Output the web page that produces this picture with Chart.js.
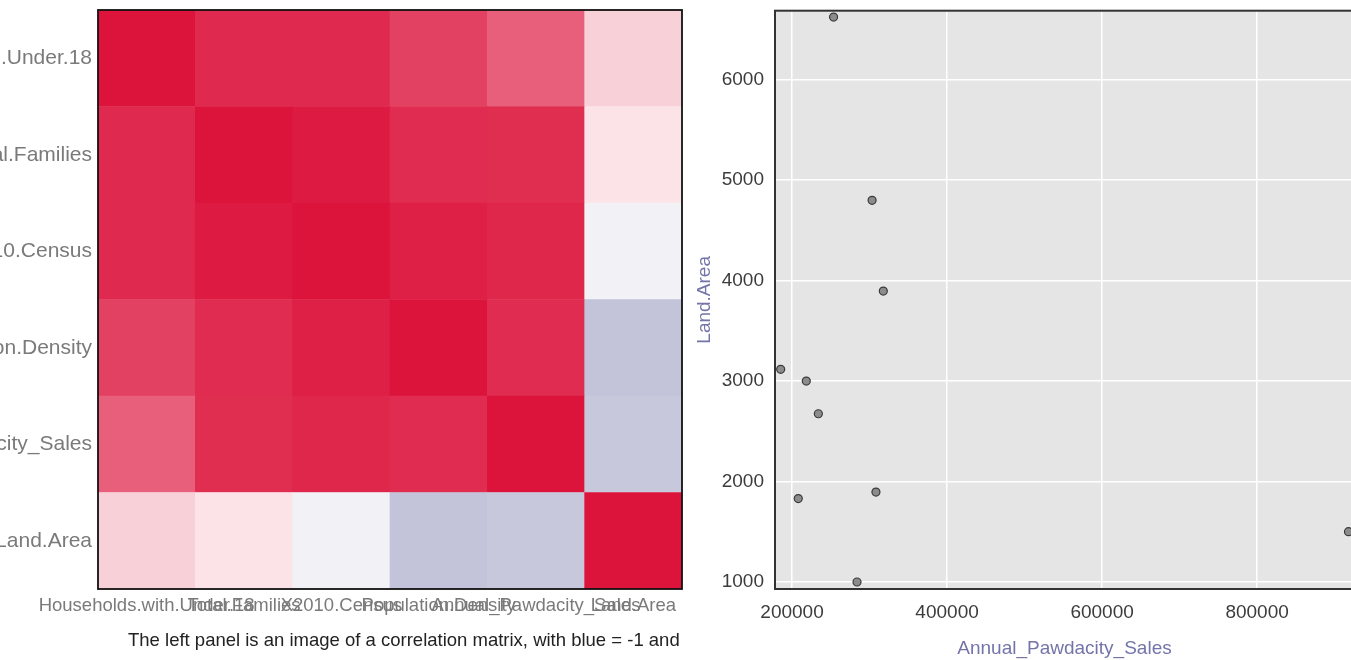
<!DOCTYPE html>
<html>
<head>
<meta charset="utf-8">
<script src="https://cdn.jsdelivr.net/npm/chart.js@4.4.1/dist/chart.umd.min.js"></script>
<style>
  html, body { margin: 0; padding: 0; background: #fff; overflow: hidden; }
  body { width: 1351px; height: 660px; position: relative; font-family: "Liberation Sans", Arial, sans-serif; }
  #heatWrap { position: absolute; left: -130px; top: 0; width: 820px; height: 660px; }
  #scatWrap { position: absolute; left: 680px; top: 0; width: 700px; height: 660px; }
  #caption { position: absolute; left: 128px; top: 629px; font-size: 18.5px; color: #222; white-space: nowrap; }
</style>
</head>
<body>
<div id="heatWrap"><canvas id="heat"></canvas></div>
<div id="scatWrap"><canvas id="scat"></canvas></div>
<div id="caption">The left panel is an image of a correlation matrix, with blue = -1 and</div>
<script>
// variables in the correlation matrix (top row first / left column first)
const varNames = [
  "Households.with.Under.18",
  "Total.Families",
  "X2010.Census",
  "Population.Density",
  "Annual_Pawdacity_Sales",
  "Land.Area"
];

// correlation rows
const corrUnder18  = [1.00, 0.91, 0.91, 0.81, 0.68, 0.20];
const corrFamilies = [0.91, 1.00, 0.97, 0.90, 0.89, 0.12];
const corrCensus   = [0.91, 0.97, 1.00, 0.95, 0.92, -0.06];
const corrDensity  = [0.81, 0.90, 0.95, 1.00, 0.90, -0.26];
const corrSales    = [0.68, 0.89, 0.92, 0.90, 1.00, -0.24];
const corrLand     = [0.20, 0.12, -0.06, -0.26, -0.24, 1.00];
const corrRows = [corrUnder18, corrFamilies, corrCensus, corrDensity, corrSales, corrLand];

// scatter: one point per city
const salesValues = [185328, 317736, 917892, 218376, 208008, 283824, 233928, 303264, 253584, 308232];
const landValues  = [3115.5, 3894.3, 1500.2, 2999.0, 1829.5, 999.5, 2673.6, 4796.9, 6620.2, 1894.0];

const xTicks = [200000, 400000, 600000, 800000];
const yTicks = [1000, 2000, 3000, 4000, 5000, 6000];

const FONT = "'Liberation Sans', Arial, sans-serif";

// blue = -1, white = 0, red = 1
function corrColor(r) {
  const hi = r >= 0 ? [220, 20, 60] : [25, 25, 112];
  const t = Math.min(1, Math.abs(r));
  const c = hi.map(v => Math.round(255 + (v - 255) * t));
  return "rgb(" + c.join(",") + ")";
}

// box around plot area
const boxPlugin = {
  id: "box",
  afterDraw(chart, args, opts) {
    const a = chart.chartArea;
    const ctx = chart.ctx;
    ctx.save();
    ctx.strokeStyle = opts.color;
    ctx.lineWidth = opts.width;
    ctx.strokeRect(a.left, a.top, a.right - a.left, a.bottom - a.top);
    ctx.restore();
  }
};

// stop tick labels from pushing the plot area around
function noPad(s) {
  s.paddingTop = 0; s.paddingBottom = 0;
  s.paddingLeft = 0; s.paddingRight = 0;
}

// ---- heatmap (stacked bars, one dataset per row, bottom row first)
const heatDatasets = [];
for (let k = 0; k < varNames.length; k++) {
  const row = corrRows[varNames.length - 1 - k];
  heatDatasets.push({
    label: varNames[varNames.length - 1 - k],
    data: row.map(() => 1),
    backgroundColor: row.map(corrColor),
    borderWidth: 0,
    barPercentage: 1,
    categoryPercentage: 1
  });
}

new Chart(document.getElementById("heat"), {
  type: "bar",
  data: { labels: varNames, datasets: heatDatasets },
  plugins: [boxPlugin],
  options: {
    responsive: true,
    maintainAspectRatio: false,
    animation: false,
    layout: { padding: { top: 10, right: 8, bottom: 0, left: 0 } },
    plugins: {
      legend: { display: false },
      tooltip: { enabled: false },
      box: { color: "#111", width: 1.8 }
    },
    scales: {
      x: {
        stacked: true,
        grid: { display: false, drawTicks: false },
        border: { display: false },
        afterFit: s => { s.height = 71; noPad(s); },
        ticks: {
          autoSkip: false, maxRotation: 0, minRotation: 0, padding: 6,
          color: "#7a7a7a", font: { family: FONT, size: 18.5 }
        }
      },
      y: {
        stacked: true,
        min: 0, max: 6,
        grid: { display: false, drawTicks: false },
        border: { display: false },
        afterFit: s => { s.width = 228; noPad(s); },
        afterBuildTicks: s => { s.ticks = [0.5, 1.5, 2.5, 3.5, 4.5, 5.5].map(v => ({ value: v })); },
        ticks: {
          padding: 6,
          color: "#7a7a7a", font: { family: FONT, size: 21 },
          callback: v => varNames[Math.round(5.5 - v)]
        }
      }
    }
  }
});

// ---- scatter
const plotBg = {
  id: "plotBg",
  beforeDraw(chart) {
    const a = chart.chartArea;
    chart.ctx.save();
    chart.ctx.fillStyle = "#e5e5e5";
    chart.ctx.fillRect(a.left, a.top, a.right - a.left, a.bottom - a.top);
    chart.ctx.restore();
  }
};

new Chart(document.getElementById("scat"), {
  type: "scatter",
  data: {
    datasets: [{
      data: salesValues.map((s, i) => ({ x: s, y: landValues[i] })),
      backgroundColor: "#8c8c8c",
      borderColor: "#3a3a3a",
      borderWidth: 1.2,
      pointRadius: 4
    }]
  },
  plugins: [plotBg, boxPlugin],
  options: {
    responsive: true,
    maintainAspectRatio: false,
    animation: false,
    layout: { padding: { top: 10.7, right: 26, bottom: 0, left: 0 } },
    plugins: {
      legend: { display: false },
      tooltip: { enabled: false },
      box: { color: "#333", width: 2 }
    },
    scales: {
      x: {
        type: "linear",
        min: 178000, max: 925000,
        grid: { color: "#ffffff", lineWidth: 1.5, drawTicks: false },
        border: { display: false },
        afterFit: s => { s.height = 71; noPad(s); },
        afterBuildTicks: s => { s.ticks = xTicks.map(v => ({ value: v })); },
        ticks: {
          padding: 12, color: "#3c3c3c",
          font: { family: FONT, size: 19 },
          callback: v => String(v)
        },
        title: {
          display: true, text: "Annual_Pawdacity_Sales",
          color: "#7474aa", font: { family: FONT, size: 19 },
          padding: { top: 0, bottom: 0 }
        }
      },
      y: {
        type: "linear",
        min: 930, max: 6684,
        grid: { color: "#ffffff", lineWidth: 1.5, drawTicks: false },
        border: { display: false },
        afterFit: s => { s.width = 95; noPad(s); },
        afterBuildTicks: s => { s.ticks = yTicks.map(v => ({ value: v })); },
        ticks: {
          padding: 11, color: "#3c3c3c",
          font: { family: FONT, size: 19 },
          callback: v => String(v)
        },
        title: {
          display: true, text: "Land.Area",
          color: "#7474aa", font: { family: FONT, size: 19 },
          padding: { top: 13, bottom: 0 }
        }
      }
    }
  }
});
</script>
</body>
</html>
